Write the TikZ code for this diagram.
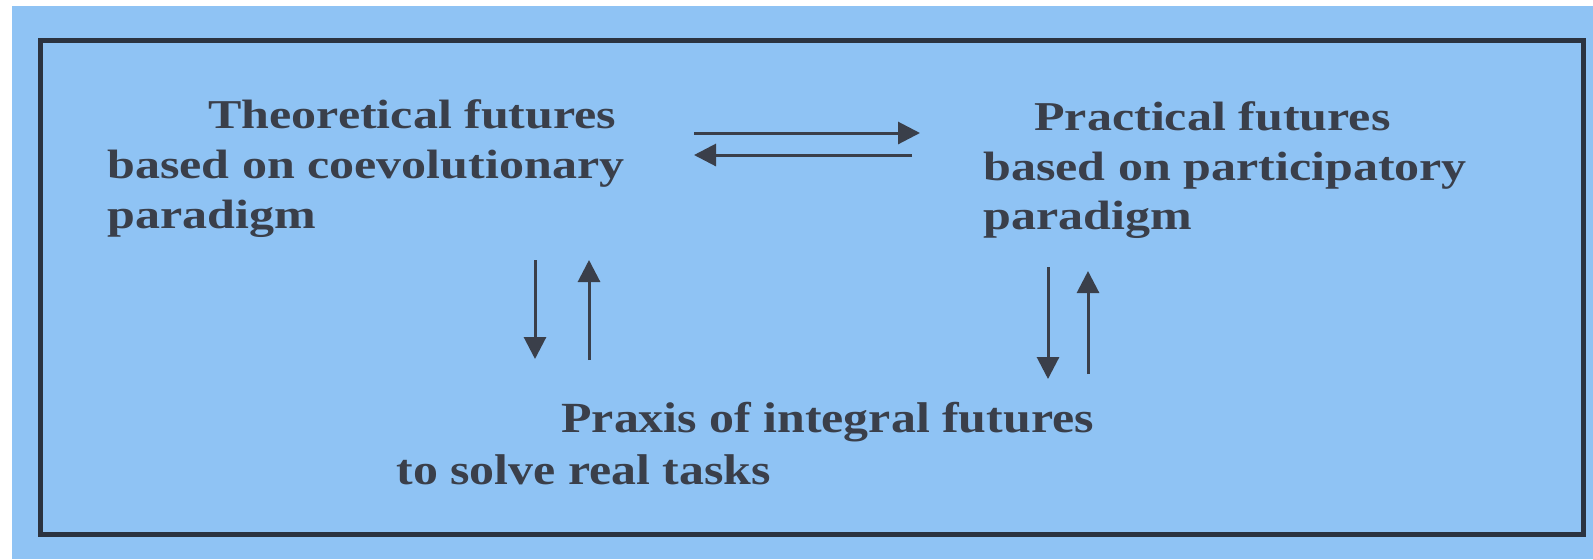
\documentclass[tikz,border=0pt]{standalone}
\usepackage{fontspec}
\setmainfont{Liberation Serif}
\newfontfamily\topserif[FakeStretch=1.22]{Liberation Serif}
\newfontfamily\lowserif[FakeStretch=1.16]{Liberation Serif}
\usetikzlibrary{arrows.meta}
\definecolor{sheet}{HTML}{8FC3F4}
\definecolor{ink}{HTML}{3A3F4A}
\definecolor{frame}{HTML}{2B3340}
\tikzset{
  upper/.style={anchor=base west, inner sep=0pt, text=ink,
    font=\topserif\bfseries\fontsize{20.5}{20.5}\selectfont},
  lower/.style={anchor=base west, inner sep=0pt, text=ink,
    font=\lowserif\bfseries\fontsize{21.5}{21.5}\selectfont},
  flow/.style={line width=1.5pt, draw=ink, -{Triangle[length=11pt,width=11pt]}}
}
\begin{document}
\begin{tikzpicture}[x=0.5pt,y=-0.5pt]
    \useasboundingbox (0,0) rectangle (1593,559);
    \fill[white] (0,0) rectangle (1593,559);
    \fill[sheet] (12,6) rectangle (1593,559);
    \draw[frame, line width=2.5pt] (40,40) rectangle (1583,534);

    % theoretical block
    \node(th1)[upper] at (208,128) {Theoretical futures};
    \node(th2)[upper] at (107,178) {based on coevolutionary};
    \node(th3)[upper] at (107,228) {paradigm};

    % practical block
    \node(pr1)[upper] at (1034,130) {Practical futures};
    \node(pr2)[upper] at (983,180) {based on participatory};
    \node(pr3)[upper] at (983,229) {paradigm};

    % praxis block
    \node(px1)[lower] at (561,432) {Praxis of integral futures};
    \node(px2)[lower] at (396,484) {to solve real tasks};

    % arrow ends
    \coordinate (thR) at (694,133);  \coordinate (prL) at (920,133);
    \coordinate (prL2) at (912,155); \coordinate (thR2) at (694,155);
    \coordinate (thD) at (535,260);  \coordinate (pxU) at (535,359);
    \coordinate (pxU2) at (589,360); \coordinate (thD2) at (589,260);
    \coordinate (prD) at (1048,267); \coordinate (pxR) at (1048,379);
    \coordinate (pxR2) at (1088,374); \coordinate (prD2) at (1088,271);

    \draw[flow] (thR) -- (prL);
    \draw[flow] (prL2) -- (thR2);
    \draw[flow] (thD) -- (pxU);
    \draw[flow] (pxU2) -- (thD2);
    \draw[flow] (prD) -- (pxR);
    \draw[flow] (pxR2) -- (prD2);
  \end{tikzpicture}
\end{document}
